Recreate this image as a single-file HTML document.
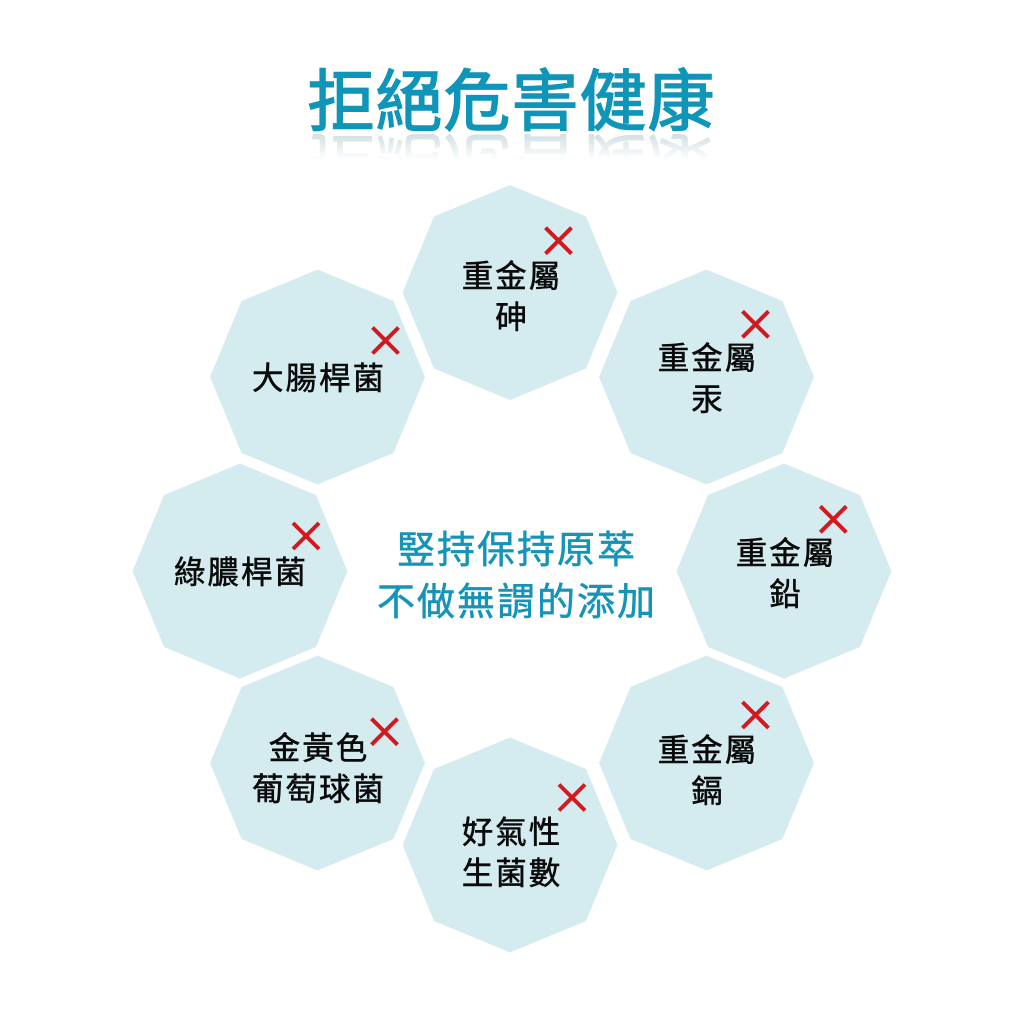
<!DOCTYPE html>
<html lang="zh-Hant">
<head>
<meta charset="utf-8">
<title>拒絕危害健康</title>
<style>
html,body{margin:0;padding:0;background:#fff;width:1024px;height:1024px;overflow:hidden}
svg{display:block}
text{font-family:"Liberation Sans","Noto Sans CJK TC",sans-serif}
.l{font-size:31.500px;fill:#0a0a0a;text-anchor:middle;letter-spacing:2px;stroke:#0a0a0a;stroke-width:.55px}
.c{font-size:38px;fill:#1594b8;text-anchor:middle;letter-spacing:2px;stroke:#1594b8;stroke-width:.6px}
.t{font-size:67px;fill:#0f95b8;text-anchor:middle;letter-spacing:1px;stroke:#0f95b8;stroke-width:1.500px}
.x{stroke:#d2191f;stroke-width:4px;fill:none}
</style>
</head>
<body>
<svg width="1024" height="1024" viewBox="0 0 1024 1024" xmlns="http://www.w3.org/2000/svg">
<defs>
<polygon id="o" points="0,-107.500 76,-76 107.500,0 76,76 0,107.500 -76,76 -107.500,0 -76,-76" fill="#d4ebf0"/>
<path id="k" d="M-13,-13L13,13M13,-13L-13,13" class="x"/>
<linearGradient id="g" gradientUnits="userSpaceOnUse" x1="0" y1="133" x2="0" y2="160">
<stop offset="0" stop-color="#fff" stop-opacity=".3"/>
<stop offset="1" stop-color="#fff" stop-opacity="0"/>
</linearGradient>
<mask id="m" maskUnits="userSpaceOnUse" x="280" y="132" width="470" height="30">
<rect x="280" y="132" width="470" height="30" fill="url(#g)"/>
</mask>
</defs>

<rect width="1024" height="1024" fill="#fff"/>

<g mask="url(#m)">
<text x="511.500" y="125" transform="translate(0,265) scale(1,-1)" style="font-size:67px;fill:#5f8f9c;text-anchor:middle;letter-spacing:1px;stroke:#5f8f9c;stroke-width:1px">拒絕危害健康</text>
</g>
<text class="t" x="511.500" y="125">拒絕危害健康</text>

<use href="#o" x="510" y="292.500"/>
<use href="#o" x="706.500" y="377"/>
<use href="#o" x="784" y="571"/>
<use href="#o" x="706.500" y="763"/>
<use href="#o" x="510" y="845"/>
<use href="#o" x="317.500" y="763"/>
<use href="#o" x="240" y="571"/>
<use href="#o" x="317.500" y="377"/>

<text class="c" x="517" y="563">竪持保持原萃</text>
<text class="c" x="517" y="615">不做無謂的添加</text>

<text class="l" x="512" y="287">重金屬</text>
<text class="l" x="512" y="328">砷</text>
<text class="l" x="708" y="369">重金屬</text>
<text class="l" x="708" y="410">汞</text>
<text class="l" x="786" y="564">重金屬</text>
<text class="l" x="786" y="605">鉛</text>
<text class="l" x="708" y="761">重金屬</text>
<text class="l" x="708" y="802">鎘</text>
<text class="l" x="512" y="843">好氣性</text>
<text class="l" x="512" y="884">生菌數</text>
<text class="l" x="319" y="759">金黃色</text>
<text class="l" x="319" y="800">葡萄球菌</text>
<text class="l" x="241" y="583">綠膿桿菌</text>
<text class="l" x="319" y="389">大腸桿菌</text>

<use href="#k" x="558.500" y="240.700"/>
<use href="#k" x="755.500" y="324.300"/>
<use href="#k" x="833.300" y="519.300"/>
<use href="#k" x="755.500" y="715"/>
<use href="#k" x="572" y="797.500"/>
<use href="#k" x="384.500" y="731.700"/>
<use href="#k" x="306" y="536"/>
<use href="#k" x="385.500" y="340.500"/>
</svg>
</body>
</html>
